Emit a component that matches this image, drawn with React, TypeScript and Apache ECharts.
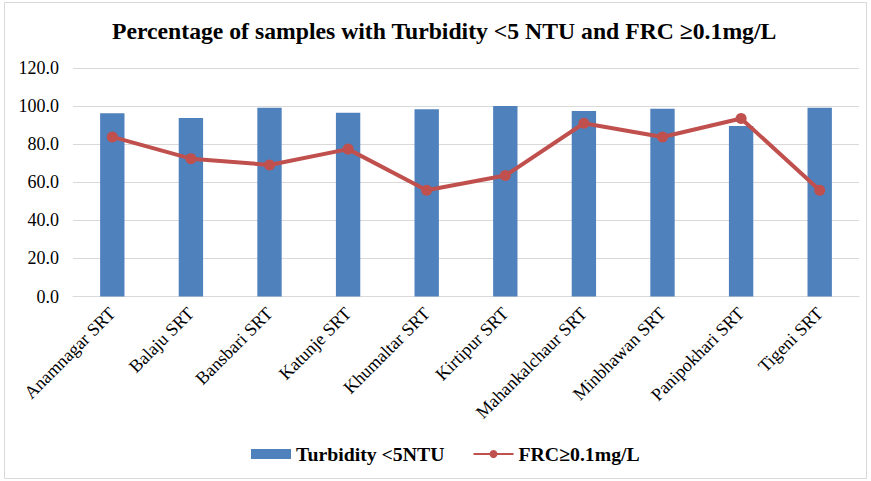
import React, { useEffect, useRef } from "react";
import * as echarts from "echarts";

const categories = [
  "Anamnagar SRT",
  "Balaju SRT",
  "Bansbari SRT",
  "Katunje SRT",
  "Khumaltar SRT",
  "Kirtipur SRT",
  "Mahankalchaur SRT",
  "Minbhawan SRT",
  "Panipokhari SRT",
  "Tigeni SRT",
];
const turbidity = [96.3, 93.7, 99.1, 96.5, 98.4, 100.0, 97.4, 98.6, 89.5, 99.1];
const frc = [83.8, 72.4, 69.1, 77.4, 55.8, 63.5, 91.0, 83.8, 93.5, 55.8];

const FONT = '"Liberation Serif", "Times New Roman", serif';

export default function App() {
  const ref = useRef<HTMLDivElement>(null);
  useEffect(() => {
    if (!ref.current) return;
    const chart = echarts.init(ref.current, null, { renderer: "svg" });
    chart.setOption({
      animation: false,
      backgroundColor: "#ffffff",
      textStyle: { fontFamily: FONT },
      title: {
        text: "Percentage of samples with Turbidity <5 NTU and FRC \u22650.1mg/L",
        left: 112,
        top: 19,
        padding: 0,
        textStyle: { fontFamily: FONT, fontSize: 23.7, fontWeight: "bold", color: "#000" },
      },
      graphic: [
        {
          type: "rect",
          shape: { x: 4.5, y: 2.5, width: 862, height: 476 },
          style: { fill: "none", stroke: "#D9D9D9", lineWidth: 1 },
          silent: true,
        },
      ],
      legend: {
        bottom: 12,
        left: 246,
        itemGap: 28,
        itemWidth: 40,
        itemHeight: 10,
        textStyle: { fontFamily: FONT, fontSize: 19.8, fontWeight: "bold", color: "#000" },
        data: [
          { name: "Turbidity <5NTU", icon: "rect" },
          { name: "FRC\u22650.1mg/L" },
        ],
      },
      grid: { left: 73, right: 12, top: 68, bottom: 184.5, containLabel: false },
      xAxis: {
        type: "category",
        data: categories,
        axisTick: { show: false },
        axisLine: { lineStyle: { color: "#D9D9D9", width: 1 } },
        axisLabel: {
          rotate: 45,
          interval: 0,
          margin: 14,
          fontFamily: FONT,
          fontSize: 18,
          color: "#000",
        },
      },
      yAxis: {
        type: "value",
        min: 0,
        max: 120,
        interval: 20,
        axisLine: { show: false },
        axisTick: { show: false },
        splitLine: { lineStyle: { color: "#D9D9D9", width: 1 } },
        axisLabel: {
          formatter: (v: number) => v.toFixed(1),
          fontFamily: FONT,
          fontSize: 18,
          color: "#000",
          margin: 14,
        },
      },
      series: [
        {
          name: "Turbidity <5NTU",
          type: "bar",
          data: turbidity,
          barWidth: "31%",
          itemStyle: { color: "#4F81BD" },
        },
        {
          name: "FRC\u22650.1mg/L",
          type: "line",
          data: frc,
          symbol: "circle",
          symbolSize: 11,
          lineStyle: { color: "#C0504D", width: 4 },
          itemStyle: { color: "#C0504D" },
        },
      ],
    });
    return () => chart.dispose();
  }, []);
  return (
    <div
      ref={ref}
      style={{ position: "fixed", left: 0, top: 0, width: 871, height: 481 }}
    />
  );
}
